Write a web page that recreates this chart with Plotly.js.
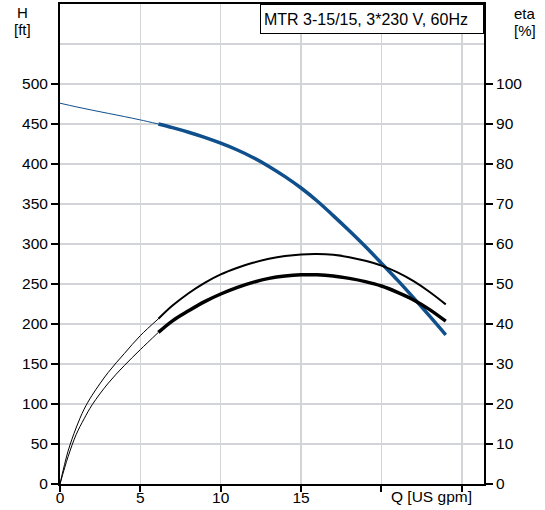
<!DOCTYPE html>
<html>
<head>
<meta charset="utf-8">
<script src="https://cdn.plot.ly/plotly-3.0.1.min.js"></script>
<style>
html,body{margin:0;padding:0;background:#fff;}
#chart{width:545px;height:510px;}
</style>
</head>
<body>
<div id="chart"></div>
<script>
// Flow Q [US gpm] and head H [ft] (thin part, then thick operating range)
var headThinQ = [0, 1, 2, 3, 4, 5, 6.12];
var headThinH = [476, 471.5, 467.3, 463.3, 459.3, 455.1, 450];
var headQ = [6.12, 7, 8, 9, 10, 11, 12, 13, 14, 15, 16, 17, 18, 19, 20, 21, 22, 23, 24];
var headH = [450, 445.4, 439.7, 433.3, 426, 417.8, 408.2, 397, 384.2, 370, 353.8, 335.5, 316.5, 296.8, 276, 254.8, 232.6, 209.8, 186.5];

// upper efficiency curve [%]
var etaAThinQ = [0, 0.5, 1, 1.5, 2, 3, 4, 5, 6.12];
var etaAThin = [0, 8.2, 14.0, 18.7, 22.2, 27.9, 32.6, 37.1, 41.3];
var etaAQ = [6.12, 7, 8, 9, 10, 11, 12, 13, 14, 15, 16, 17, 18, 19, 20, 21, 22, 23, 24];
var etaA = [41.3, 44.6, 47.7, 50.3, 52.4, 54.0, 55.3, 56.3, 57.0, 57.4, 57.5, 57.3, 56.7, 55.8, 54.6, 52.9, 50.7, 48.0, 44.9];

// lower efficiency curve [%]
var etaBThinQ = [0, 0.5, 1, 1.5, 2, 3, 4, 5, 6.12];
var etaBThin = [0, 6.8, 12.3, 16.3, 19.8, 25.2, 29.6, 33.6, 37.9];
var etaBQ = [6.12, 7, 8, 9, 10, 11, 12, 13, 14, 15, 16, 17, 18, 19, 20, 21, 22, 23, 24];
var etaB = [37.9, 40.8, 43.3, 45.6, 47.5, 49.1, 50.4, 51.4, 52.0, 52.3, 52.3, 52.0, 51.4, 50.6, 49.5, 47.9, 46.0, 43.6, 40.7];

// axis ticks
var xTickVals = [0, 5, 10, 15, 20, 25];
var xTickText = ['0', '5', '10', '15', '', ''];
var hTickVals = [0, 50, 100, 150, 200, 250, 300, 350, 400, 450, 500];
var etaTickVals = [0, 10, 20, 30, 40, 50, 60, 70, 80, 90, 100];

var titleText = 'MTR 3-15/15, 3*230 V, 60Hz';
var xLabel = 'Q [US gpm]';

var BLUE = '#0e4f8c';
var GRID = '#d3d4d8';
var FONT = 'Liberation Sans, Arial, sans-serif';

var traces = [
  {x: headThinQ, y: headThinH, mode: 'lines', line: {color: BLUE, width: 1, shape: 'spline'}, hoverinfo: 'skip'},
  {x: headQ, y: headH, mode: 'lines', line: {color: BLUE, width: 3.5, shape: 'spline'}, hoverinfo: 'skip'},
  {x: etaAThinQ, y: etaAThin, yaxis: 'y2', mode: 'lines', line: {color: '#000', width: 1, shape: 'spline'}, hoverinfo: 'skip'},
  {x: etaAQ, y: etaA, yaxis: 'y2', mode: 'lines', line: {color: '#000', width: 2, shape: 'spline'}, hoverinfo: 'skip'},
  {x: etaBThinQ, y: etaBThin, yaxis: 'y2', mode: 'lines', line: {color: '#000', width: 1, shape: 'spline'}, hoverinfo: 'skip'},
  {x: etaBQ, y: etaB, yaxis: 'y2', mode: 'lines', line: {color: '#000', width: 3.5, shape: 'spline'}, hoverinfo: 'skip'}
];

var layout = {
  width: 545, height: 510,
  margin: {l: 60, r: 61, t: 4, b: 26, pad: 0},
  paper_bgcolor: '#fff', plot_bgcolor: '#fff',
  showlegend: false,
  font: {family: FONT, size: 15.5, color: '#000'},
  xaxis: {
    range: [0, 26.38], tickmode: 'array', tickvals: xTickVals, ticktext: xTickText,
    showgrid: true, gridcolor: GRID, gridwidth: 1.5, zeroline: false,
    showline: true, linecolor: '#000', linewidth: 2, mirror: true,
    ticks: 'outside', ticklen: 6, tickwidth: 2, tickcolor: '#000',
    ticklabelstandoff: -8,
    tickfont: {family: FONT, size: 15.5, color: '#000'}
  },
  yaxis: {
    range: [0, 600], tickmode: 'array', tickvals: hTickVals,
    showgrid: true, gridcolor: GRID, gridwidth: 1.5, zeroline: false,
    minor: {tickmode: 'array', tickvals: [550], showgrid: true, gridcolor: GRID, gridwidth: 1.5, ticks: ''},
    showline: true, linecolor: '#000', linewidth: 2,
    ticks: 'outside', ticklen: 7, tickwidth: 2, tickcolor: '#000',
    tickfont: {family: FONT, size: 15.5, color: '#000'}
  },
  yaxis2: {
    overlaying: 'y', side: 'right', range: [0, 120], tickmode: 'array', tickvals: etaTickVals,
    showgrid: false, zeroline: false,
    showline: true, linecolor: '#000', linewidth: 2,
    ticks: 'outside', ticklen: 7, tickwidth: 2, tickcolor: '#000',
    tickfont: {family: FONT, size: 15.5, color: '#000'}
  },
  annotations: [
    {text: titleText, xref: 'paper', yref: 'paper', x: 1, y: 1, xanchor: 'right', yanchor: 'top',
     showarrow: false, align: 'left', width: 216, height: 22, borderpad: 3,
     bordercolor: '#000', borderwidth: 1, bgcolor: '#fff',
     font: {family: FONT, size: 16, color: '#000'}},
    {text: 'H', xref: 'paper', yref: 'paper', x: -0.0896, y: 0.982, xanchor: 'center', yanchor: 'middle',
     showarrow: false, font: {family: FONT, size: 15, color: '#000'}},
    {text: '[ft]', xref: 'paper', yref: 'paper', x: -0.0896, y: 0.946, xanchor: 'center', yanchor: 'middle',
     showarrow: false, font: {family: FONT, size: 15, color: '#000'}},
    {text: 'eta', xref: 'paper', yref: 'paper', x: 1.0967, y: 0.981, xanchor: 'center', yanchor: 'middle',
     showarrow: false, font: {family: FONT, size: 15, color: '#000'}},
    {text: '[%]', xref: 'paper', yref: 'paper', x: 1.0967, y: 0.945, xanchor: 'center', yanchor: 'middle',
     showarrow: false, font: {family: FONT, size: 15, color: '#000'}},
    {text: xLabel, xref: 'x', yref: 'paper', x: 23.1, y: -0.027, xanchor: 'center', yanchor: 'middle',
     showarrow: false, font: {family: FONT, size: 15.5, color: '#000'}}
  ]
};

Plotly.newPlot('chart', traces, layout, {staticPlot: true, displayModeBar: false});
</script>
</body>
</html>
